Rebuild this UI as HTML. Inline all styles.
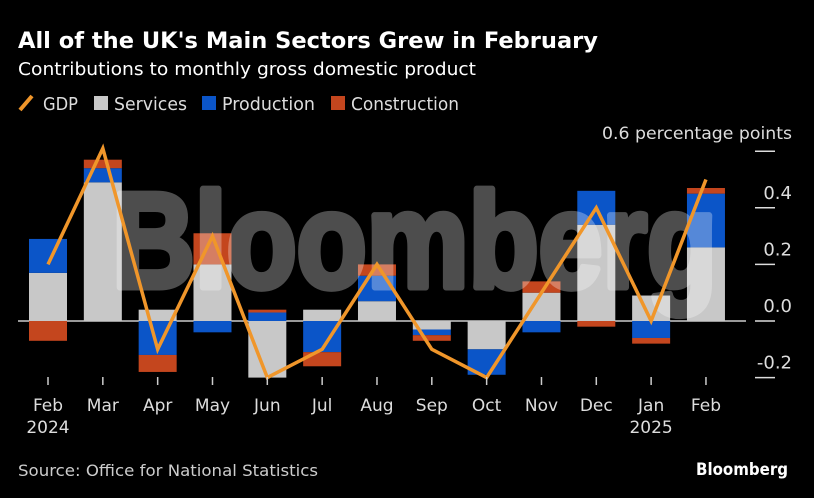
<!DOCTYPE html>
<html><head><meta charset="utf-8"><style>
html,body{margin:0;padding:0;background:#000;}
svg{display:block;font-family:"DejaVu Sans","Liberation Sans",sans-serif;}
</style></head><body>
<svg id="chart" width="814" height="498" viewBox="0 0 814 498" xmlns="http://www.w3.org/2000/svg">
<rect width="814" height="498" fill="#000"/>
<text x="18" y="48" fill="#fff" font-weight="bold" font-size="22" textLength="580" lengthAdjust="spacingAndGlyphs">All of the UK's Main Sectors Grew in February</text>
<text x="18" y="75" fill="#fff" font-size="18" textLength="458" lengthAdjust="spacingAndGlyphs">Contributions to monthly gross domestic product</text>
<g>
 <g><line x1="20" y1="110" x2="32" y2="96" stroke="#f0962a" stroke-width="4"/><text x="43" y="110" fill="#ddd" font-size="18" textLength="35" lengthAdjust="spacingAndGlyphs">GDP</text></g>
 <g><rect x="94" y="96" width="14" height="14" fill="#c8c8c8"/><text x="114" y="110" fill="#ddd" font-size="18" textLength="73" lengthAdjust="spacingAndGlyphs">Services</text></g>
 <g><rect x="202" y="96" width="14" height="14" fill="#0b55c8"/><text x="222" y="110" fill="#ddd" font-size="18" textLength="93" lengthAdjust="spacingAndGlyphs">Production</text></g>
 <g><rect x="331" y="96" width="14" height="14" fill="#c4461e"/><text x="351" y="110" fill="#ddd" font-size="18" textLength="108" lengthAdjust="spacingAndGlyphs">Construction</text></g>
</g>
<text x="792" y="139" fill="#ddd" font-size="17" text-anchor="end" textLength="190" lengthAdjust="spacingAndGlyphs">0.6 percentage points</text>
<g id="grid"></g>
<g id="bars"></g>
<g opacity="0.3">
<text x="112" y="287" fill="#fff" stroke="#fff" stroke-width="7" stroke-linejoin="round" font-family="Liberation Sans, sans-serif" font-weight="bold" font-size="135" textLength="605" lengthAdjust="spacingAndGlyphs">Bloomberg</text>
</g>
<g id="line"></g>
<g id="xaxis"></g>
<text x="18" y="476" fill="#ccc" font-size="16" textLength="300" lengthAdjust="spacingAndGlyphs">Source: Office for National Statistics</text>
<text x="788" y="475" fill="#fff" font-weight="bold" font-size="17" text-anchor="end" textLength="92" lengthAdjust="spacingAndGlyphs">Bloomberg</text>
</svg>
<script>
const months = ["Feb","Mar","Apr","May","Jun","Jul","Aug","Sep","Oct","Nov","Dec","Jan","Feb"];
const years = ["2024","","","","","","","","","","","2025",""];
const services = [0.17,0.49,0.04,0.2,-0.2,0.04,0.07,-0.03,-0.1,0.1,0.34,0.09,0.26];
const production = [0.12,0.05,-0.12,-0.04,0.03,-0.11,0.09,-0.02,-0.09,-0.04,0.12,-0.06,0.19];
const construction = [-0.07,0.03,-0.06,0.11,0.01,-0.05,0.04,-0.02,0,0.04,-0.02,-0.02,0.02];
const gdp = [0.2,0.61,-0.1,0.3,-0.2,-0.1,0.2,-0.1,-0.2,0.1,0.4,0,0.5];
const yTicks = [0.6,0.4,0.2,0.0,-0.2];
const yTickLabels = ["","0.4","0.2","0.0","-0.2"];

const NS="http://www.w3.org/2000/svg";
const y = v => 321 - v*283;
const x = i => 48 + i*54.83;
const bw = 38;
function mk(tag, attrs, parent){const e=document.createElementNS(NS,tag);for(const k in attrs)e.setAttribute(k,attrs[k]);parent.appendChild(e);return e;}
const grid=document.getElementById('grid'), bars=document.getElementById('bars'), line=document.getElementById('line'), xa=document.getElementById('xaxis');
yTicks.forEach((t,i)=>{
  const l=mk('line',{x1:755,x2:775,y1:y(t),y2:y(t),stroke:'#ddd','stroke-width':1.5},grid);
  
  
  if(yTickLabels[i]){
    const tx=mk('text',{x:792,y:y(t)-9,fill:'#ddd','font-size':18,'text-anchor':'end'},grid);
    tx.textContent=yTickLabels[i];
    
    
  }
});
const zl=mk('line',{x1:18,x2:746,y1:y(0),y2:y(0),stroke:'#ccc','stroke-width':1.5},grid);


const series=[[services,'#c8c8c8','services'],[production,'#0b55c8','production'],[construction,'#c4461e','construction']];
months.forEach((m,i)=>{
  let pos=0,neg=0;
  series.forEach(([arr,col,nm])=>{
    const v=arr[i]; if(!v) return;
    let a,b;
    if(v>0){a=pos;b=pos+v;pos=b;} else {a=neg;b=neg+v;neg=b;}
    const top=Math.min(y(a),y(b)), h=Math.abs(y(a)-y(b));
    const r=mk('rect',{x:x(i)-bw/2,y:top,width:bw,height:h,fill:col},bars);
    
    
  });
  const tk=mk('line',{x1:x(i),x2:x(i),y1:377,y2:385,stroke:'#ccc','stroke-width':1.5},xa);
  
  
  const t=mk('text',{x:x(i),y:411,fill:'#ddd','font-size':17,'text-anchor':'middle'},xa);
  t.textContent=m;
  
  
  if(years[i]){
    const t2=mk('text',{x:x(i),y:433,fill:'#ddd','font-size':17,'text-anchor':'middle'},xa);
    t2.textContent=years[i];
    
    
  }
});
const pl=mk('polyline',{points:gdp.map((v,i)=>x(i)+','+y(v)).join(' '),fill:'none',stroke:'#f0962a','stroke-width':3.5,'stroke-linejoin':'miter'},line);


</script>
</body></html>
